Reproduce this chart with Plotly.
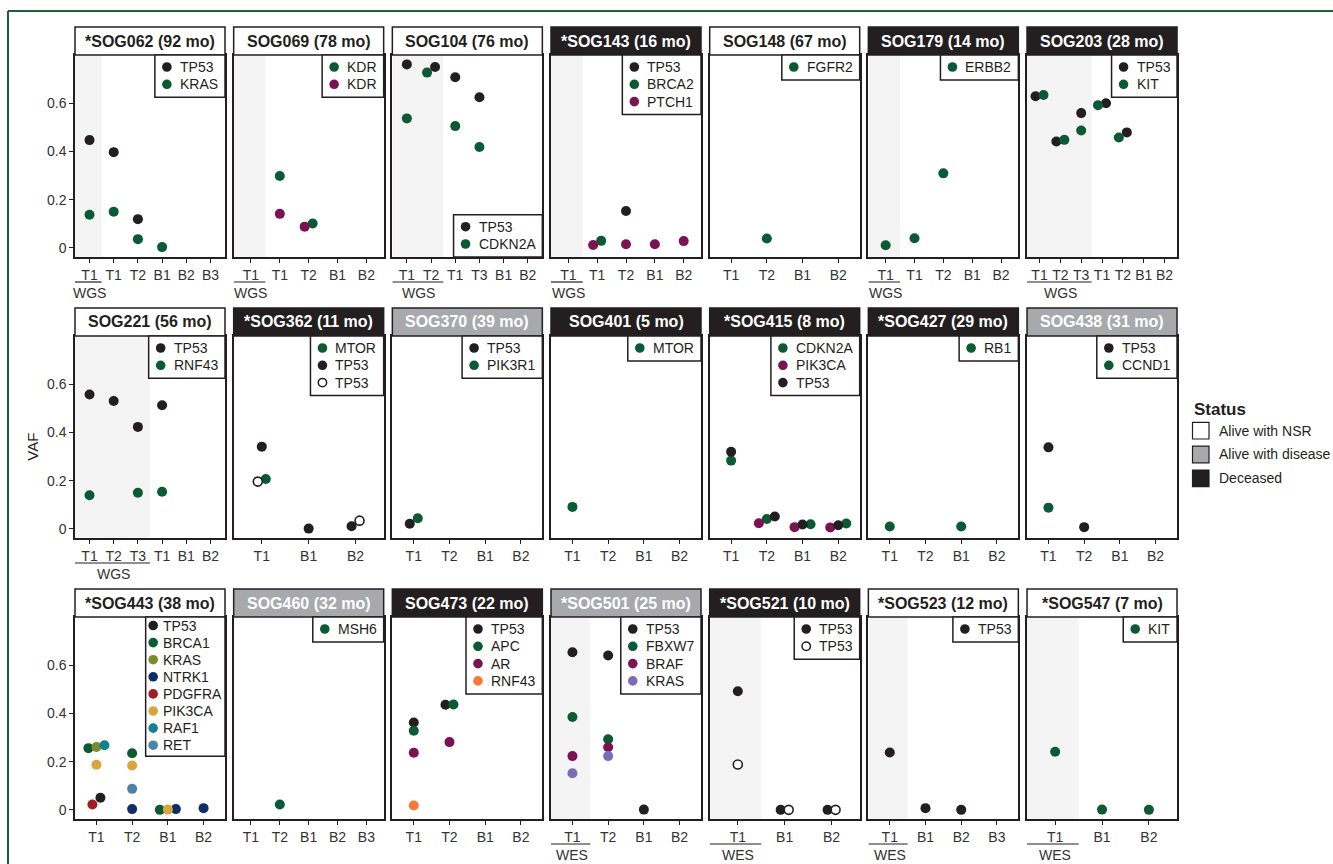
import plotly.graph_objects as go

W, H = 1333, 864
FONT = "Liberation Sans, Arial, Helvetica, sans-serif"
INK = "#231F20"

# ---------------- data: VAF per sample, one list per mutation ----------------
sog062_samples = ["T1", "T1", "T2", "B1", "B2", "B3"]
sog062_tp53 = [0.447, 0.397, 0.119, None, None, None]
sog062_kras = [0.137, 0.150, 0.036, 0.003, None, None]

sog069_samples = ["T1", "T1", "T2", "B1", "B2"]
sog069_kdr_a = [None, 0.298, 0.101, None, None]
sog069_kdr_b = [None, 0.141, 0.088, None, None]

sog104_samples = ["T1", "T2", "T1", "T3", "B1", "B2"]
sog104_tp53 = [0.761, 0.750, 0.708, 0.625, None, None]
sog104_cdkn2a = [0.537, 0.727, 0.505, 0.418, None, None]

sog143_samples = ["T1", "T1", "T2", "B1", "B2"]
sog143_tp53 = [None, None, 0.153, None, None]
sog143_brca2 = [None, 0.029, None, None, None]
sog143_ptch1 = [None, 0.012, 0.015, 0.015, 0.028]

sog148_samples = ["T1", "T2", "B1", "B2"]
sog148_fgfr2 = [None, 0.039, None, None]

sog179_samples = ["T1", "T1", "T2", "B1", "B2"]
sog179_erbb2 = [0.011, 0.040, 0.309, None, None]

sog203_samples = ["T1", "T2", "T3", "T1", "T2", "B1", "B2"]
sog203_tp53 = [0.629, 0.441, 0.559, 0.600, 0.479, None, None]
sog203_kit = [0.634, 0.448, 0.487, 0.592, 0.458, None, None]

sog221_samples = ["T1", "T2", "T3", "T1", "B1", "B2"]
sog221_tp53 = [0.557, 0.530, 0.423, 0.513, None, None]
sog221_rnf43 = [0.139, None, 0.150, 0.154, None, None]

sog362_samples = ["T1", "B1", "B2"]
sog362_mtor = [0.207, None, None]
sog362_tp53_a = [0.341, 0.001, 0.011]
sog362_tp53_b = [0.196, None, 0.034]

sog370_samples = ["T1", "T2", "B1", "B2"]
sog370_tp53 = [0.021, None, None, None]
sog370_pik3r1 = [0.044, None, None, None]

sog401_samples = ["T1", "T2", "B1", "B2"]
sog401_mtor = [0.091, None, None, None]

sog415_samples = ["T1", "T2", "B1", "B2"]
sog415_cdkn2a = [0.283, 0.041, 0.019, 0.022]
sog415_pik3ca = [None, 0.023, 0.007, 0.006]
sog415_tp53 = [0.320, 0.051, 0.018, 0.015]

sog427_samples = ["T1", "T2", "B1", "B2"]
sog427_rb1 = [0.010, None, 0.010, None]

sog438_samples = ["T1", "T2", "B1", "B2"]
sog438_tp53 = [0.338, 0.007, None, None]
sog438_ccnd1 = [0.088, None, None, None]

sog443_samples = ["T1", "T2", "B1", "B2"]
sog443_tp53 = [0.050, None, None, None]
sog443_brca1 = [0.256, 0.235, 0.000, None]
sog443_kras = [0.261, None, None, None]
sog443_ntrk1 = [None, 0.003, 0.003, 0.007]
sog443_pdgfra = [0.022, None, None, None]
sog443_pik3ca = [0.187, 0.184, 0.001, None]
sog443_raf1 = [0.268, None, None, None]
sog443_ret = [None, 0.087, None, None]

sog460_samples = ["T1", "T2", "B1", "B2", "B3"]
sog460_msh6 = [None, 0.022, None, None, None]

sog473_samples = ["T1", "T2", "B1", "B2"]
sog473_tp53 = [0.362, 0.436, None, None]
sog473_apc = [0.328, 0.437, None, None]
sog473_ar = [0.237, 0.281, None, None]
sog473_rnf43 = [0.018, None, None, None]

sog501_samples = ["T1", "T2", "B1", "B2"]
sog501_tp53 = [0.654, 0.640, 0.001, None]
sog501_fbxw7 = [0.385, 0.293, None, None]
sog501_braf = [0.223, 0.260, None, None]
sog501_kras = [0.152, 0.223, None, None]

sog521_samples = ["T1", "B1", "B2"]
sog521_tp53_a = [0.492, 0.000, 0.000]
sog521_tp53_b = [0.188, 0.000, 0.000]

sog523_samples = ["T1", "B1", "B2", "B3"]
sog523_tp53 = [0.238, 0.007, 0.000, None]

sog547_samples = ["T1", "B1", "B2"]
sog547_kit = [0.241, 0.001, 0.000]

NSR, AWD, DEC = "Alive with NSR", "Alive with disease", "Deceased"

# ---------------- styles ----------------
COLORS = {
    "black": "#231F20", "green": "#0A5A33", "purple": "#7B1353",
    "orange": "#F47A38", "lavender": "#7E6BB7", "olive": "#7B8B2B",
    "navy": "#0D2E66", "red": "#A11F24", "gold": "#D9A63D",
    "teal": "#138290", "steel": "#4B83AB",
}
STRIP_FILL = {NSR: "#FFFFFF", AWD: "#A7A9AC", DEC: "#231F20"}
STRIP_TEXT = {NSR: INK, AWD: "#FFFFFF", DEC: "#FFFFFF"}
SHADE = "#F4F4F4"

panels = [
    dict(title="*SOG062 (92 mo)", status=NSR, samples=sog062_samples, early=1,
         series=[("TP53", sog062_tp53, "black"), ("KRAS", sog062_kras, "green")]),
    dict(title="SOG069 (78 mo)", status=NSR, samples=sog069_samples, early=1,
         series=[("KDR", sog069_kdr_a, "green"), ("KDR", sog069_kdr_b, "purple")]),
    dict(title="SOG104 (76 mo)", status=NSR, samples=sog104_samples, early=2, legend_bottom=True,
         series=[("TP53", sog104_tp53, "black"), ("CDKN2A", sog104_cdkn2a, "green")]),
    dict(title="*SOG143 (16 mo)", status=DEC, samples=sog143_samples, early=1,
         series=[("TP53", sog143_tp53, "black"), ("BRCA2", sog143_brca2, "green"),
                 ("PTCH1", sog143_ptch1, "purple")]),
    dict(title="SOG148 (67 mo)", status=NSR, samples=sog148_samples, early=0,
         series=[("FGFR2", sog148_fgfr2, "green")]),
    dict(title="SOG179 (14 mo)", status=DEC, samples=sog179_samples, early=1,
         series=[("ERBB2", sog179_erbb2, "green")]),
    dict(title="SOG203 (28 mo)", status=DEC, samples=sog203_samples, early=3,
         series=[("TP53", sog203_tp53, "black"), ("KIT", sog203_kit, "green")]),
    dict(title="SOG221 (56 mo)", status=NSR, samples=sog221_samples, early=3,
         series=[("TP53", sog221_tp53, "black"), ("RNF43", sog221_rnf43, "green")]),
    dict(title="*SOG362 (11 mo)", status=DEC, samples=sog362_samples, early=0,
         series=[("MTOR", sog362_mtor, "green"), ("TP53", sog362_tp53_a, "black"),
                 ("TP53", sog362_tp53_b, "open")]),
    dict(title="SOG370 (39 mo)", status=AWD, samples=sog370_samples, early=0,
         series=[("TP53", sog370_tp53, "black"), ("PIK3R1", sog370_pik3r1, "green")]),
    dict(title="SOG401 (5 mo)", status=DEC, samples=sog401_samples, early=0,
         series=[("MTOR", sog401_mtor, "green")]),
    dict(title="*SOG415 (8 mo)", status=DEC, samples=sog415_samples, early=0,
         series=[("CDKN2A", sog415_cdkn2a, "green"), ("PIK3CA", sog415_pik3ca, "purple"),
                 ("TP53", sog415_tp53, "black")]),
    dict(title="*SOG427 (29 mo)", status=DEC, samples=sog427_samples, early=0,
         series=[("RB1", sog427_rb1, "green")]),
    dict(title="SOG438 (31 mo)", status=AWD, samples=sog438_samples, early=0,
         series=[("TP53", sog438_tp53, "black"), ("CCND1", sog438_ccnd1, "green")]),
    dict(title="*SOG443 (38 mo)", status=NSR, samples=sog443_samples, early=0, compact=True,
         series=[("TP53", sog443_tp53, "black"), ("BRCA1", sog443_brca1, "green"),
                 ("KRAS", sog443_kras, "olive"), ("NTRK1", sog443_ntrk1, "navy"),
                 ("PDGFRA", sog443_pdgfra, "red"), ("PIK3CA", sog443_pik3ca, "gold"),
                 ("RAF1", sog443_raf1, "teal"), ("RET", sog443_ret, "steel")]),
    dict(title="SOG460 (32 mo)", status=AWD, samples=sog460_samples, early=0,
         series=[("MSH6", sog460_msh6, "green")]),
    dict(title="SOG473 (22 mo)", status=DEC, samples=sog473_samples, early=0,
         series=[("TP53", sog473_tp53, "black"), ("APC", sog473_apc, "green"),
                 ("AR", sog473_ar, "purple"), ("RNF43", sog473_rnf43, "orange")]),
    dict(title="*SOG501 (25 mo)", status=AWD, samples=sog501_samples, early=1,
         series=[("TP53", sog501_tp53, "black"), ("FBXW7", sog501_fbxw7, "green"),
                 ("BRAF", sog501_braf, "purple"), ("KRAS", sog501_kras, "lavender")]),
    dict(title="*SOG521 (10 mo)", status=DEC, samples=sog521_samples, early=1,
         series=[("TP53", sog521_tp53_a, "black"), ("TP53", sog521_tp53_b, "open")]),
    dict(title="*SOG523 (12 mo)", status=NSR, samples=sog523_samples, early=1,
         series=[("TP53", sog523_tp53, "black")]),
    dict(title="*SOG547 (7 mo)", status=NSR, samples=sog547_samples, early=1,
         series=[("KIT", sog547_kit, "green")]),
]
ROW_ASSAY = ["WGS", "WGS", "WES"]

# ---------------- page geometry (pixels) ----------------
N_COLS = 7
COL_X0, COL_PITCH, PANEL_W = 75.0, 158.67, 150.0
ROW_TOP = [55.0, 336.0, 617.0]
PANEL_H = 202.0
STRIP_H = 28.0
Y_RANGE = [-0.038, 0.80]
DODGE_PX = 8.0
OVERLAP_VAF = 0.031


def fx(px):
    return px / W


def fy(py):
    return 1.0 - py / H


# Arial / Liberation Sans advance widths (per 1000 em) for legend text sizing
ADV = dict(zip("ABCDEFGHIJKLMNOPQRSTUVWXYZ",
               [667, 667, 722, 722, 667, 611, 778, 722, 278, 500, 667, 556, 833,
                722, 778, 667, 778, 722, 667, 611, 722, 667, 944, 667, 667, 611]))
ADV.update({d: 556 for d in "0123456789"})


def text_w(s, size):
    return sum(ADV.get(c, 556) for c in s) * size / 1000.0


fig = go.Figure()
shapes, annotations = [], []
layout_axes = {}

for k, p in enumerate(panels, start=1):
    row, col = divmod(k - 1, N_COLS)
    x0 = COL_X0 + col * COL_PITCH
    x1 = x0 + PANEL_W
    top = ROW_TOP[row]
    bottom = top + PANEL_H
    n = len(p["samples"])
    xr = [0.4, n + 0.6]
    xs = "x" if k == 1 else f"x{k}"
    ys = "y" if k == 1 else f"y{k}"
    xname = "xaxis" if k == 1 else f"xaxis{k}"
    yname = "yaxis" if k == 1 else f"yaxis{k}"
    first_col = col == 0

    layout_axes[xname] = dict(
        domain=[fx(x0), fx(x1)], anchor=ys, range=xr,
        tickmode="array", tickvals=list(range(1, n + 1)), ticktext=p["samples"],
        showline=True, mirror=True, linecolor=INK, linewidth=1.5,
        ticks="outside", ticklen=4, tickwidth=1.2, tickcolor=INK,
        tickfont=dict(family=FONT, size=14, color="#333333"),
        showgrid=False, zeroline=False, fixedrange=True,
    )
    layout_axes[yname] = dict(
        domain=[fy(bottom), fy(top)], anchor=xs, range=Y_RANGE,
        tickmode="array", tickvals=[0, 0.2, 0.4, 0.6], ticktext=["0", "0.2", "0.4", "0.6"],
        showticklabels=first_col, ticks="outside" if first_col else "",
        ticklen=4, tickwidth=1.2, tickcolor=INK,
        tickfont=dict(family=FONT, size=14, color="#333333"),
        showline=True, mirror=True, linecolor=INK, linewidth=1.5,
        showgrid=False, zeroline=False, fixedrange=True,
    )

    # sequencing-assay block: shaded background, underline and label
    if p["early"] > 0:
        edge = p["early"] + 0.5
        shapes.append(dict(type="rect", xref=xs, yref=f"{ys} domain", x0=xr[0], x1=edge,
                           y0=0, y1=1, fillcolor=SHADE, line=dict(width=0), layer="below"))
        shapes.append(dict(type="line", xref=xs, yref="paper", x0=xr[0], x1=edge,
                           y0=fy(bottom + 25), y1=fy(bottom + 25),
                           line=dict(color=INK, width=1.2)))
        annotations.append(dict(x=(1 + p["early"]) / 2.0, xref=xs, y=fy(bottom + 35.5),
                                yref="paper", text=ROW_ASSAY[row], showarrow=False,
                                xanchor="center", yanchor="middle",
                                font=dict(family=FONT, size=14, color="#333333")))

    # facet strip
    shapes.append(dict(type="rect", xref="paper", yref="paper", x0=fx(x0), x1=fx(x1),
                       y0=fy(top), y1=fy(top - STRIP_H), fillcolor=STRIP_FILL[p["status"]],
                       line=dict(color=INK, width=1.5), layer="above"))
    annotations.append(dict(x=fx((x0 + x1) / 2), y=fy(top - STRIP_H / 2), xref="paper",
                            yref="paper", text=f"<b>{p['title']}</b>", showarrow=False,
                            xanchor="center", yanchor="middle",
                            font=dict(family=FONT, size=16, color=STRIP_TEXT[p["status"]])))

    # points, with overlapping values at the same sample spread sideways
    step = DODGE_PX * (xr[1] - xr[0]) / PANEL_W
    offsets = {}
    for i in range(n):
        pts = [(vals[i], s) for s, (_, vals, _) in enumerate(p["series"]) if vals[i] is not None]
        pts.sort()
        clusters, cur = [], []
        for v, s in pts:
            if cur and v - cur[-1][0] >= OVERLAP_VAF:
                clusters.append(cur)
                cur = []
            cur.append((v, s))
        if cur:
            clusters.append(cur)
        for cl in clusters:
            m = len(cl)
            for j, (v, s) in enumerate(cl):
                offsets[(s, i)] = (j - (m - 1) / 2.0) * step

    for s, (gene, vals, style) in enumerate(p["series"]):
        xv, yv = [], []
        for i, v in enumerate(vals):
            if v is None:
                continue
            xv.append(i + 1 + offsets[(s, i)])
            yv.append(v)
        if style == "open":
            marker = dict(size=9, color="#FFFFFF", line=dict(color=INK, width=1.6))
        else:
            marker = dict(size=10, color=COLORS[style], line=dict(width=0))
        fig.add_trace(go.Scatter(x=xv, y=yv, xaxis=xs, yaxis=ys, mode="markers",
                                 marker=marker, name=gene, showlegend=False,
                                 hovertemplate=f"{gene}: %{{y:.3f}}<extra></extra>"))

    # per-panel gene key
    ng = len(p["series"])
    compact = p.get("compact", False)
    dot_dx, txt_dx = (7.5, 15.0) if compact else (12.0, 23.0)
    top_pad, gap, bot_pad = (8.5, 17.1, 11.0) if compact else (12.0, 17.3, 13.0)
    bw = txt_dx + max(text_w(g, 14) for g, _, _ in p["series"]) + (6.0 if compact else 9.0)
    bh = top_pad + gap * (ng - 1) + bot_pad
    bx1 = x1
    bx0 = bx1 - bw
    if p.get("legend_bottom"):
        by1 = bottom
        by0 = by1 - bh
    else:
        by0 = top
        by1 = top + bh
    shapes.append(dict(type="rect", xref="paper", yref="paper", x0=fx(bx0), x1=fx(bx1),
                       y0=fy(by1), y1=fy(by0), fillcolor="#FFFFFF",
                       line=dict(color=INK, width=1.5), layer="above"))
    for j, (gene, _, style) in enumerate(p["series"]):
        cy = by0 + top_pad + j * gap
        cx = bx0 + dot_dx
        r = 4.8
        if style == "open":
            shapes.append(dict(type="circle", xref="paper", yref="paper",
                               x0=fx(cx - 4.2), x1=fx(cx + 4.2), y0=fy(cy + 4.2), y1=fy(cy - 4.2),
                               fillcolor="#FFFFFF", line=dict(color=INK, width=1.5), layer="above"))
        else:
            shapes.append(dict(type="circle", xref="paper", yref="paper",
                               x0=fx(cx - r), x1=fx(cx + r), y0=fy(cy + r), y1=fy(cy - r),
                               fillcolor=COLORS[style], line=dict(width=0), layer="above"))
        annotations.append(dict(x=fx(bx0 + txt_dx), y=fy(cy), xref="paper", yref="paper",
                                text=gene, showarrow=False, xanchor="left", yanchor="middle",
                                font=dict(family=FONT, size=14, color=INK)))

# y-axis title
annotations.append(dict(x=fx(33), y=fy(446.7), xref="paper", yref="paper", text="VAF",
                        textangle=-90, showarrow=False, xanchor="center", yanchor="middle",
                        font=dict(family=FONT, size=15, color=INK)))

# survival-status key
annotations.append(dict(x=fx(1192), y=fy(410), xref="paper", yref="paper", text="<b>Status</b>",
                        showarrow=False, xanchor="left", yanchor="middle",
                        font=dict(family=FONT, size=17, color=INK)))
for j, st in enumerate([NSR, AWD, DEC]):
    cy = 430.7 + j * 23.8
    shapes.append(dict(type="rect", xref="paper", yref="paper", x0=fx(1192.5), x1=fx(1209),
                       y0=fy(cy + 8.3), y1=fy(cy - 8.3), fillcolor=STRIP_FILL[st],
                       line=dict(color=INK, width=1.2)))
    annotations.append(dict(x=fx(1216.5), y=fy(cy), xref="paper", yref="paper", text=st,
                            showarrow=False, xanchor="left", yanchor="middle",
                            font=dict(family=FONT, size=14, color=INK)))

# page frame (left and top rules)
FRAME = "#1B5E3B"
shapes.append(dict(type="line", xref="paper", yref="paper", x0=fx(8), x1=fx(8),
                   y0=fy(11), y1=fy(H + 5), line=dict(color=FRAME, width=2)))
shapes.append(dict(type="line", xref="paper", yref="paper", x0=fx(8), x1=fx(W + 5),
                   y0=fy(11), y1=fy(11), line=dict(color=FRAME, width=2)))

fig.update_layout(
    width=W, height=H, margin=dict(l=0, r=0, t=0, b=0, pad=0),
    paper_bgcolor="#FFFFFF", plot_bgcolor="#FFFFFF",
    showlegend=False, shapes=shapes, annotations=annotations,
    font=dict(family=FONT, size=14, color=INK),
    **layout_axes,
)

fig.write_html("out.html", config={"displayModeBar": False})
